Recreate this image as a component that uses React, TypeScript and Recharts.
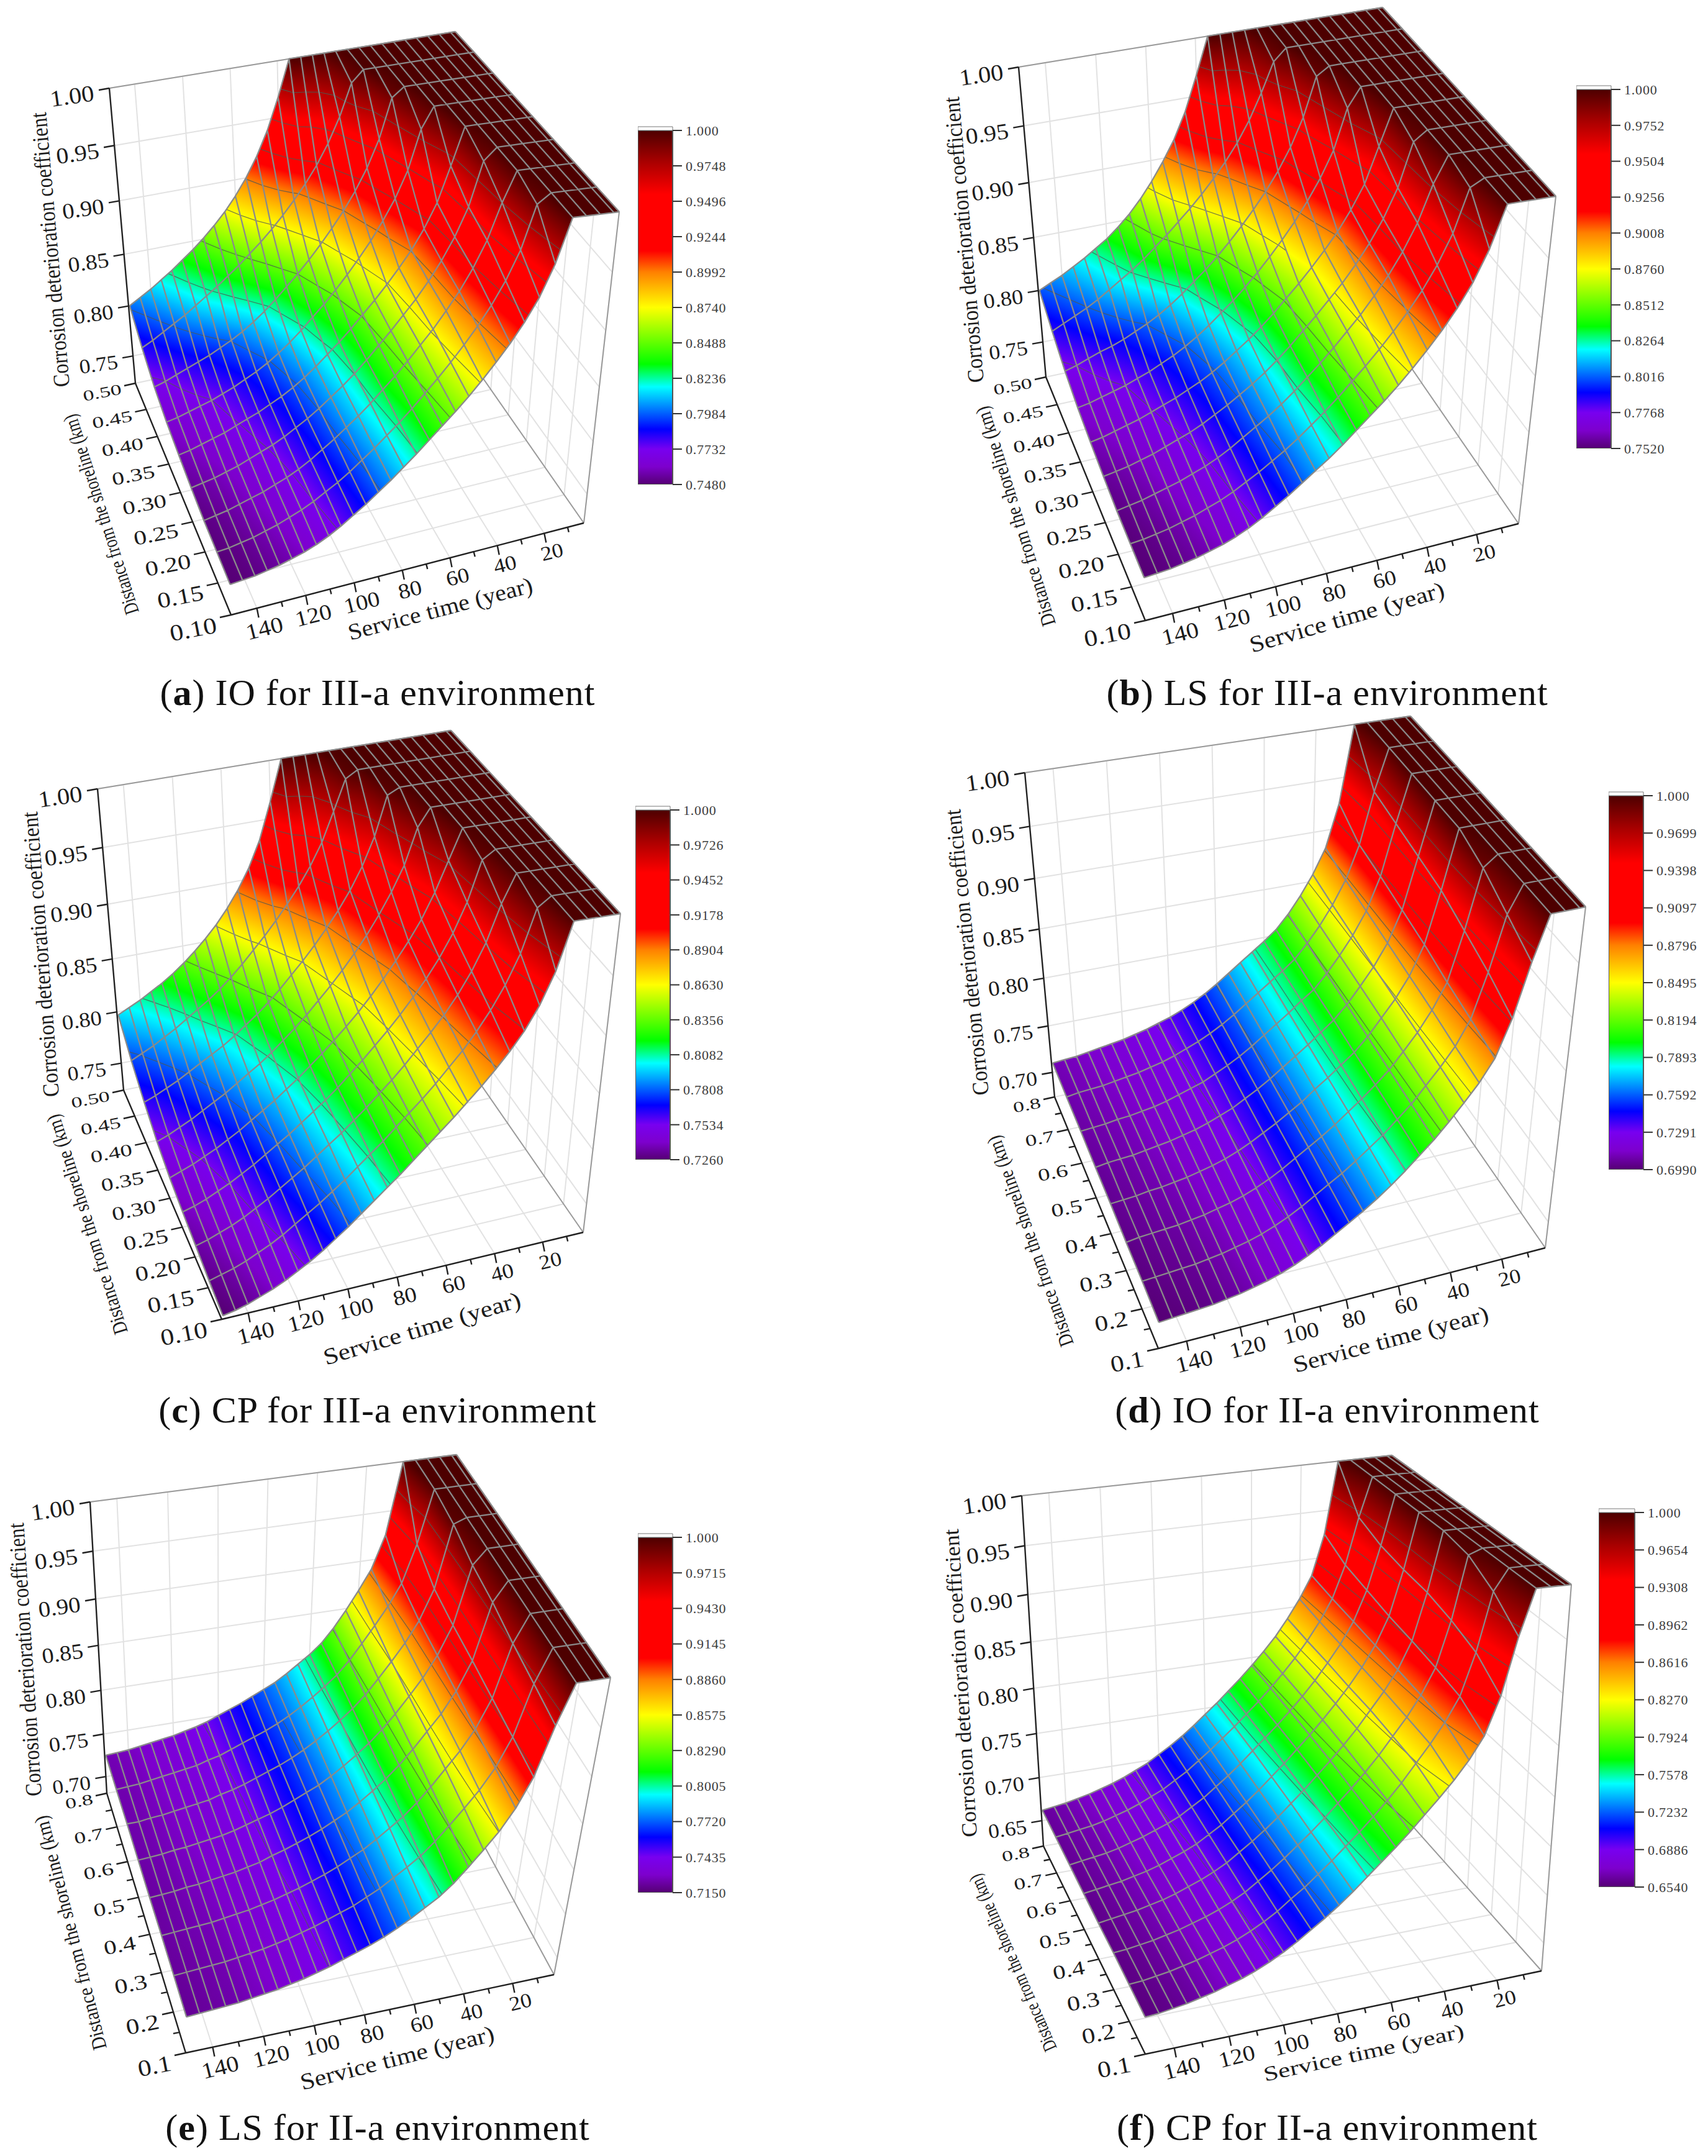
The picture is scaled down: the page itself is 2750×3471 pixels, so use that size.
import React from 'react';
import { Bar, BarChart, ReferenceArea, Scatter, ScatterChart, XAxis, YAxis } from 'recharts';

// service time columns of every surface, oldest first
const TIMES = [150, 145, 140, 135, 130, 125, 120, 115, 110, 105, 100, 95, 90, 85, 80, 75, 70, 65, 60, 55, 50, 45, 40, 35, 30, 25, 20, 15, 10, 5, 3];
const DIST_III = [0.5, 0.45, 0.4, 0.35, 0.3, 0.25, 0.2, 0.15, 0.1];
const DIST_II = [0.8, 0.7, 0.6, 0.5, 0.4, 0.3, 0.2, 0.1];
const TIME_TICKS = [140, 120, 100, 80, 60, 40, 20];
const TIME_MINOR = [130, 110, 90, 70, 50, 30, 10];
const Z_TICKS_A = [1, 0.95, 0.9, 0.85, 0.8, 0.75];
const Z_TICKS_D = [1, 0.95, 0.9, 0.85, 0.8, 0.75, 0.7];
const Z_TICKS_F = [1, 0.95, 0.9, 0.85, 0.8, 0.75, 0.7, 0.65];

// coefficient x 1000, one row per distance; each row stops where it reaches the 1.000 plateau
const IO_IIIA = [
  [800, 806, 812, 819, 826, 834, 842, 851, 861, 872, 885, 900, 918, 940, 968],
  [783, 788, 794, 800, 806, 813, 820, 827, 835, 843, 852, 861, 871, 882, 894, 907, 922, 940, 962, 990],
  [770, 773, 777, 781, 785, 789, 794, 799, 805, 812, 820, 829, 839, 849, 860, 872, 885, 899, 915, 934, 958, 992],
  [762, 764, 767, 770, 773, 777, 781, 786, 791, 797, 804, 812, 821, 831, 841, 852, 864, 877, 891, 907, 925, 948, 982],
  [757, 759, 762, 765, 768, 772, 776, 780, 785, 790, 796, 803, 811, 820, 829, 839, 850, 861, 873, 886, 900, 917, 938, 968],
  [753, 755, 757, 760, 763, 767, 771, 775, 780, 786, 792, 799, 807, 815, 824, 834, 845, 856, 868, 880, 894, 910, 929, 953, 990],
  [750, 752, 754, 757, 760, 763, 767, 771, 776, 782, 789, 796, 804, 812, 821, 831, 841, 852, 864, 876, 890, 905, 923, 945, 975],
  [749, 750, 752, 754, 757, 760, 764, 768, 773, 779, 785, 792, 800, 808, 817, 826, 836, 847, 858, 870, 883, 897, 913, 932, 956, 992],
  [748, 749, 750, 752, 754, 757, 760, 764, 769, 775, 782, 789, 797, 805, 814, 823, 833, 843, 853, 864, 876, 889, 903, 919, 938, 964],
];
const LS_IIIA = [
  [800, 805, 810, 816, 822, 829, 836, 845, 855, 867, 881, 897, 915, 938, 968],
  [786, 791, 796, 801, 807, 814, 821, 828, 836, 845, 854, 864, 874, 885, 897, 910, 925, 943, 965, 990],
  [774, 777, 781, 785, 788, 792, 797, 802, 808, 815, 823, 832, 841, 851, 862, 874, 887, 901, 917, 936, 960, 993],
  [766, 768, 771, 774, 777, 781, 785, 790, 795, 801, 808, 816, 825, 834, 844, 855, 867, 880, 894, 910, 928, 950, 984],
  [761, 763, 766, 769, 772, 776, 780, 784, 789, 794, 800, 807, 815, 823, 832, 842, 853, 864, 876, 889, 903, 920, 940, 970],
  [757, 759, 761, 764, 767, 771, 775, 779, 784, 790, 796, 803, 810, 818, 827, 837, 848, 859, 871, 883, 897, 913, 932, 956, 992],
  [754, 756, 758, 761, 764, 767, 771, 775, 780, 786, 793, 800, 807, 815, 824, 834, 844, 855, 867, 879, 893, 908, 926, 948, 978],
  [753, 754, 756, 758, 761, 764, 768, 772, 777, 783, 789, 796, 803, 811, 820, 829, 839, 850, 861, 873, 886, 900, 916, 935, 959, 994],
  [752, 753, 754, 756, 758, 761, 764, 768, 773, 779, 786, 793, 801, 809, 817, 826, 836, 846, 856, 867, 879, 892, 906, 922, 941, 966],
];
const CP_IIIA = [
  [797, 802, 807, 813, 819, 826, 834, 843, 853, 864, 877, 892, 910, 933, 965],
  [777, 782, 787, 793, 799, 806, 813, 820, 828, 837, 847, 858, 869, 881, 894, 908, 924, 943, 968, 994],
  [762, 766, 771, 776, 782, 788, 794, 800, 807, 815, 823, 832, 842, 853, 864, 876, 889, 903, 919, 938, 962, 995],
  [750, 754, 759, 764, 770, 776, 782, 789, 796, 803, 811, 820, 829, 839, 850, 861, 873, 886, 900, 916, 934, 955, 985],
  [742, 746, 750, 755, 760, 766, 772, 779, 786, 793, 801, 809, 818, 827, 837, 847, 858, 870, 883, 897, 912, 929, 950, 975],
  [737, 740, 744, 749, 754, 760, 766, 773, 780, 787, 795, 803, 811, 820, 830, 840, 851, 862, 874, 887, 901, 917, 936, 960, 993],
  [733, 736, 740, 744, 749, 755, 761, 768, 775, 782, 790, 798, 806, 815, 824, 834, 844, 855, 867, 879, 892, 907, 925, 947, 977],
  [729, 732, 735, 739, 744, 749, 755, 762, 769, 776, 784, 792, 801, 810, 819, 829, 839, 849, 860, 872, 884, 898, 914, 933, 957, 992],
  [726, 728, 731, 735, 739, 744, 750, 756, 763, 771, 779, 788, 797, 806, 815, 825, 835, 845, 855, 866, 877, 889, 902, 917, 936, 962],
];
const IO_IIA = [
  [710, 711, 712, 714, 716, 718, 720, 723, 726, 730, 734, 739, 745, 752, 760, 769, 778, 787, 796, 806, 820, 837, 857, 882, 925],
  [708, 710, 711, 712, 714, 716, 718, 721, 724, 728, 733, 738, 744, 751, 759, 768, 777, 786, 795, 805, 819, 835, 854, 877, 910, 960],
  [707, 708, 709, 711, 712, 714, 716, 719, 723, 727, 731, 737, 743, 750, 758, 767, 776, 785, 795, 804, 818, 834, 852, 874, 906, 955],
  [705, 707, 708, 709, 711, 713, 715, 718, 721, 725, 730, 735, 742, 749, 757, 766, 775, 784, 794, 804, 817, 833, 850, 871, 901, 950],
  [704, 705, 706, 708, 709, 711, 713, 716, 719, 723, 728, 734, 741, 748, 756, 764, 774, 783, 793, 803, 816, 832, 848, 868, 896, 945],
  [702, 704, 705, 706, 707, 709, 711, 714, 717, 721, 726, 732, 739, 747, 755, 763, 772, 782, 792, 803, 815, 830, 846, 865, 889, 935, 990],
  [701, 702, 703, 704, 705, 707, 709, 712, 715, 719, 724, 730, 737, 745, 753, 761, 770, 780, 790, 802, 814, 829, 844, 861, 884, 925, 975],
  [699, 700, 701, 702, 703, 705, 707, 710, 713, 717, 722, 728, 735, 743, 751, 759, 768, 778, 789, 801, 813, 827, 842, 858, 878, 912, 960],
];
const LS_IIA = [
  [725, 726, 727, 729, 731, 733, 735, 738, 741, 745, 750, 755, 760, 766, 772, 778, 786, 795, 804, 815, 830, 848, 868, 890, 925],
  [724, 725, 726, 728, 730, 732, 734, 736, 740, 743, 748, 753, 758, 763, 769, 776, 784, 793, 803, 814, 828, 845, 863, 882, 905, 945],
  [724, 724, 726, 727, 729, 731, 733, 735, 739, 742, 746, 751, 756, 761, 767, 774, 782, 791, 801, 812, 825, 841, 858, 876, 898, 930, 995],
  [723, 724, 725, 727, 728, 730, 732, 734, 737, 741, 745, 749, 754, 760, 766, 772, 780, 789, 799, 810, 823, 838, 855, 873, 895, 925, 985],
  [722, 723, 724, 726, 727, 729, 731, 733, 736, 739, 744, 748, 753, 758, 764, 771, 778, 787, 797, 808, 821, 836, 853, 870, 892, 922, 980],
  [722, 723, 724, 725, 726, 728, 730, 732, 735, 738, 742, 746, 751, 756, 762, 769, 776, 785, 795, 805, 818, 833, 850, 867, 888, 918, 972],
  [721, 722, 723, 724, 725, 727, 729, 731, 734, 737, 741, 745, 750, 755, 760, 767, 774, 783, 792, 802, 815, 830, 846, 863, 884, 914, 966],
  [720, 721, 722, 723, 724, 726, 728, 730, 733, 736, 740, 744, 749, 754, 759, 765, 772, 780, 789, 798, 810, 825, 841, 858, 880, 910, 960],
];
const CP_IIA = [
  [662, 664, 666, 669, 672, 676, 680, 685, 691, 697, 705, 713, 722, 732, 743, 754, 766, 778, 791, 805, 820, 838, 858, 882, 925],
  [661, 663, 665, 667, 670, 674, 678, 683, 689, 695, 703, 711, 721, 731, 742, 753, 765, 777, 790, 804, 819, 836, 855, 878, 912, 960],
  [660, 662, 664, 666, 669, 673, 677, 682, 687, 693, 701, 709, 719, 729, 740, 752, 764, 776, 789, 803, 818, 835, 853, 875, 906, 950],
  [659, 661, 663, 665, 668, 671, 675, 680, 685, 691, 699, 707, 717, 727, 738, 750, 762, 775, 788, 802, 817, 833, 851, 872, 900, 945],
  [658, 660, 662, 664, 667, 670, 674, 679, 684, 690, 697, 706, 715, 725, 736, 748, 760, 773, 786, 800, 815, 832, 849, 869, 896, 942],
  [658, 659, 661, 663, 666, 669, 673, 677, 682, 688, 695, 704, 713, 723, 734, 745, 757, 770, 783, 797, 812, 829, 846, 866, 891, 935, 995],
  [657, 658, 660, 662, 665, 668, 672, 676, 681, 687, 694, 702, 712, 721, 732, 743, 755, 767, 780, 794, 809, 826, 843, 862, 885, 925, 980],
  [656, 657, 659, 661, 664, 667, 671, 675, 680, 686, 693, 701, 710, 719, 729, 740, 752, 764, 776, 789, 803, 817, 832, 849, 870, 905, 958],
];

const BAR_TICKS_A = [1, 0.9748, 0.9496, 0.9244, 0.8992, 0.874, 0.8488, 0.8236, 0.7984, 0.7732, 0.748];
const BAR_TICKS_B = [1, 0.9752, 0.9504, 0.9256, 0.9008, 0.876, 0.8512, 0.8264, 0.8016, 0.7768, 0.752];
const BAR_TICKS_C = [1, 0.9726, 0.9452, 0.9178, 0.8904, 0.863, 0.8356, 0.8082, 0.7808, 0.7534, 0.726];
const BAR_TICKS_D = [1, 0.9699, 0.9398, 0.9097, 0.8796, 0.8495, 0.8194, 0.7893, 0.7592, 0.7291, 0.699];
const BAR_TICKS_E = [1, 0.9715, 0.943, 0.9145, 0.886, 0.8575, 0.829, 0.8005, 0.772, 0.7435, 0.715];
const BAR_TICKS_F = [1, 0.9654, 0.9308, 0.8962, 0.8616, 0.827, 0.7924, 0.7578, 0.7232, 0.6886, 0.654];

const Z_TITLE = 'Corrosion deterioration coefficient';
const D_TITLE = 'Distance from the shoreline (km)';
const T_TITLE = 'Service time (year)';
const FONT = '"Liberation Serif", serif';

// fraction down the colour bar -> colour
const COLOR_STOPS: [number, number[]][] = [
  [0, [77, 0, 0]], [0.09, [170, 0, 0]], [0.18, [255, 0, 0]], [0.34, [255, 0, 0]], [0.4, [255, 128, 0]],
  [0.5, [255, 255, 0]], [0.66, [0, 255, 0]], [0.724, [0, 255, 255]], [0.844, [0, 0, 255]],
  [0.9, [120, 0, 240]], [0.95, [125, 0, 205]], [1, [85, 0, 115]],
];

const rgb = (frac: number) => {
  const f = Math.min(1, Math.max(0, frac));
  for (let i = 1; i < COLOR_STOPS.length; i++) {
    const [f1, c1] = COLOR_STOPS[i];
    const [f0, c0] = COLOR_STOPS[i - 1];
    if (f <= f1) {
      const s = (f - f0) / (f1 - f0);
      return `rgb(${c0.map((c, k) => Math.round(c + (c1[k] - c) * s)).join(',')})`;
    }
  }
  return 'rgb(85,0,115)';
};

// perspective spacing along one box edge
const warp = (s: number, k: number) => s / (k - s * (k - 1));
const mix = (a: number[], b: number[], s: number) => [a[0] + (b[0] - a[0]) * s, a[1] + (b[1] - a[1]) * s];

const T_MAX = 150.5;
const T_MIN = 3;

function project(p: any, t: number, d: number, z: number) {
  const u = warp((T_MAX - t) / (T_MAX - T_MIN), 0.97);
  const v = warp((p.dMax - d) / (p.dMax - p.dMin), 1.12);
  const w = warp((1 - z) / (1 - p.floor), 0.91);
  const c = p.cam;
  const top = mix(mix(c.tl, c.tb, u), mix(c.tn, c.tr, u), v);
  const bot = mix(mix(c.bl, c.bb, u), mix(c.bn, c.br, u), v);
  const [x, y] = mix(top, bot, w);
  return { x, y };
}

const noMark = () => <g />;

const segments = (stroke: string, width: number) => (props: any) => {
  const pts = props.points;
  let d = '';
  for (let i = 0; i + 1 < pts.length; i += 2) d += `M${pts[i].x} ${pts[i].y}L${pts[i + 1].x} ${pts[i + 1].y}`;
  return <path d={d} stroke={stroke} strokeWidth={width} fill="none" />;
};

const textMark = (props: any) => {
  const { cx, cy, payload } = props;
  return (
    <text
      transform={`translate(${cx} ${cy}) rotate(${payload.rot}) scale(${payload.sx ?? 1} 1)`}
      fontFamily={FONT}
      fontSize={payload.fs}
      fill="#1c1c1c"
      textAnchor={payload.anchor}
      textLength={payload.len}
      lengthAdjust="spacingAndGlyphs"
    >
      {payload.label}
    </text>
  );
};

// one gradient-filled quad per grid cell; the nodes come back through the chart's scales
const surfaceLine = (panel: any) => (props: any) => {
  const pts = props.points;
  const nc = TIMES.length;
  const rows = panel.rows;
  const zMin = panel.ticks[panel.ticks.length - 1];
  const frac = (z: number) => (1 - z) / (1 - zMin);
  const at = (r: number, c: number) => ({ ...pts[r * nc + c], z: rows[r][c] });
  const defs: any[] = [];
  const cells: any[] = [];
  const contour: string[] = [];
  const levels = panel.ticks.slice(1, -1);

  for (let r = 0; r + 1 < rows.length; r++) {
    for (let c = 0; c + 1 < nc; c++) {
      const q = [at(r, c), at(r, c + 1), at(r + 1, c + 1), at(r + 1, c)];
      const poly = q.map((p) => `${p.x},${p.y}`).join(' ');
      const zs = q.map((p) => p.z);
      const lo = Math.min(...zs);
      const hi = Math.max(...zs);
      let fill = rgb(frac(lo));
      if (hi - lo > 1e-4) {
        const mx = q.reduce((s, p) => s + p.x, 0) / 4;
        const my = q.reduce((s, p) => s + p.y, 0) / 4;
        const mz = (zs[0] + zs[1] + zs[2] + zs[3]) / 4;
        let sxx = 0, sxy = 0, syy = 0, sxz = 0, syz = 0;
        q.forEach((p) => {
          const dx = p.x - mx, dy = p.y - my, dz = p.z - mz;
          sxx += dx * dx; sxy += dx * dy; syy += dy * dy; sxz += dx * dz; syz += dy * dz;
        });
        const det = sxx * syy - sxy * sxy;
        const a = (sxz * syy - syz * sxy) / det;
        const b = (syz * sxx - sxz * sxy) / det;
        const g2 = a * a + b * b;
        const id = `g${panel.key}-${r}-${c}`;
        const zAt = [lo];
        COLOR_STOPS.forEach(([f]) => {
          const zb = 1 - f * (1 - zMin);
          if (zb > lo && zb < hi) zAt.push(zb);
        });
        zAt.push(hi);
        zAt.sort((m, n) => m - n);
        defs.push(
          <linearGradient
            key={id}
            id={id}
            gradientUnits="userSpaceOnUse"
            x1={mx + ((lo - mz) * a) / g2}
            y1={my + ((lo - mz) * b) / g2}
            x2={mx + ((hi - mz) * a) / g2}
            y2={my + ((hi - mz) * b) / g2}
          >
            {zAt.map((z, i) => <stop key={i} offset={(z - lo) / (hi - lo)} stopColor={rgb(frac(z))} />)}
          </linearGradient>
        );
        fill = `url(#${id})`;
      }
      cells.push(<polygon key={`${r}-${c}`} points={poly} fill={fill} stroke={fill} strokeWidth={0.6} />);

      // contour pieces at the colour bar levels
      levels.forEach((L: number) => {
        const hits: string[] = [];
        for (let e = 0; e < 4; e++) {
          const p0 = q[e], p1 = q[(e + 1) % 4];
          if ((p0.z - L) * (p1.z - L) < 0) {
            const s = (L - p0.z) / (p1.z - p0.z);
            hits.push(`${p0.x + (p1.x - p0.x) * s} ${p0.y + (p1.y - p0.y) * s}`);
          }
        }
        for (let h = 0; h + 1 < hits.length; h += 2) contour.push(`M${hits[h]}L${hits[h + 1]}`);
      });
    }
  }

  let mesh = '';
  for (let r = 0; r < rows.length; r++) {
    mesh += 'M' + rows[r].map((_: number, c: number) => `${at(r, c).x} ${at(r, c).y}`).join('L');
  }
  for (let c = 0; c < nc; c++) {
    mesh += 'M' + rows.map((_: any, r: number) => `${at(r, c).x} ${at(r, c).y}`).join('L');
  }
  return (
    <g>
      <defs>{defs}</defs>
      {cells}
      <path d={contour.join('')} stroke="#4f5a50" strokeWidth={1.4} strokeOpacity={0.75} fill="none" />
      <path d={mesh} stroke="#8a8a8a" strokeWidth={2.3} fill="none" strokeLinejoin="round" />
    </g>
  );
};

function SurfacePanel({ panel }: { panel: any }) {
  const { box, dists, dTicks, dMinor, zTicks, dFmt, titles } = panel;
  const P = (t: number, d: number, z: number) => project(panel, t, d, z);
  const nodes: any[] = [];
  panel.rows.forEach((row: number[], r: number) => row.forEach((z, c) => nodes.push(P(TIMES[c], dists[r], z))));

  const { dMin, dMax, floor } = panel;
  const wall: any[] = [];
  zTicks.forEach((z: number) => wall.push(P(T_MAX, dMax, z), P(T_MIN, dMax, z), P(T_MIN, dMax, z), P(T_MIN, dMin, z)));
  TIME_TICKS.forEach((t) => wall.push(P(t, dMax, 1), P(t, dMax, floor), P(t, dMax, floor), P(t, dMin, floor)));
  dTicks.forEach((d: number) => wall.push(P(T_MAX, d, floor), P(T_MIN, d, floor), P(T_MIN, d, floor), P(T_MIN, d, 1)));

  const frame = [
    P(T_MAX, dMax, 1), P(T_MIN, dMax, 1), P(T_MIN, dMax, 1), P(T_MIN, dMin, 1),
    P(T_MIN, dMin, 1), P(T_MIN, dMin, floor), P(T_MIN, dMin, floor), P(T_MIN, dMax, floor),
  ];
  const axes = [
    P(T_MAX, dMax, 1), P(T_MAX, dMax, floor), P(T_MAX, dMax, floor), P(T_MAX, dMin, floor),
    P(T_MAX, dMin, floor), P(T_MIN, dMin, floor),
  ];
  const off = (p: any, dx: number, dy: number) => ({ x: p.x + dx, y: p.y + dy });
  zTicks.forEach((z: number) => { const p = P(T_MAX, dMax, z); axes.push(p, off(p, -17, 3)); });
  dTicks.forEach((d: number) => { const p = P(T_MAX, d, floor); axes.push(p, off(p, -18, 4)); });
  dMinor.forEach((d: number) => { const p = P(T_MAX, d, floor); axes.push(p, off(p, -10, 2)); });
  TIME_TICKS.forEach((t) => { const p = P(t, dMin, floor); axes.push(p, off(p, 3, 15)); });
  TIME_MINOR.forEach((t) => { const p = P(t, dMin, floor); axes.push(p, off(p, 2, 8)); });

  const labels: any[] = [];
  zTicks.forEach((z: number) => {
    const s = (1 - z) / (1 - floor);
    labels.push({ ...off(P(T_MAX, dMax, z), -23, 20), label: z.toFixed(2), fs: 37 - 5 * s, anchor: 'end', rot: -8, sx: 1.1 });
  });
  dTicks.forEach((d: number) => {
    const s = (dMax - d) / (dMax - dMin);
    labels.push({ ...off(P(T_MAX, d, floor), -21, 17 + 11 * s), label: d.toFixed(dFmt), fs: 24 + 13 * s, anchor: 'end', rot: -11, sx: 1.5 - 0.32 * s });
  });
  TIME_TICKS.forEach((t) => {
    labels.push({ ...off(P(t, dMin, floor), 15, 44 - (140 - t) * 0.03), label: String(t), fs: 36 - (140 - t) * 0.03, anchor: 'middle', rot: -14, sx: 1.12 });
  });
  titles.forEach((tt: any, i: number) => {
    const [a, b] = tt.pts;
    const rot = (Math.atan2(b[1] - a[1], b[0] - a[0]) * 180) / Math.PI;
    labels.push({ x: a[0], y: a[1], label: [Z_TITLE, D_TITLE, T_TITLE][i], fs: tt.fs, anchor: 'start', rot, len: Math.hypot(b[0] - a[0], b[1] - a[1]) });
  });

  return (
    <div style={{ position: 'absolute', left: box.x, top: box.y }}>
      <ScatterChart width={box.w} height={box.h} margin={{ top: 0, right: 0, bottom: 0, left: 0 }}>
        <XAxis type="number" dataKey="x" domain={[box.x, box.x + box.w]} hide />
        <YAxis type="number" dataKey="y" domain={[box.y, box.y + box.h]} reversed hide />
        <Scatter data={wall} shape={noMark} line={segments('#e2e2e2', 2)} isAnimationActive={false} />
        <Scatter data={frame} shape={noMark} line={segments('#9a9a9a', 2)} isAnimationActive={false} />
        <Scatter data={nodes} shape={noMark} line={surfaceLine(panel)} isAnimationActive={false} />
        <Scatter data={axes} shape={noMark} line={segments('#222222', 2.4)} isAnimationActive={false} />
        <Scatter data={labels} shape={textMark} isAnimationActive={false} />
      </ScatterChart>
    </div>
  );
}

function ColorBar({ panel }: { panel: any }) {
  const { bar, ticks, key } = panel;
  const zMin = ticks[ticks.length - 1];
  const cap = ((bar.bottom - bar.top) ? (1 - zMin) * 6 / (bar.bottom - bar.top) : 0);
  const chartData = [{ name: 'z', range: [zMin, 1] }];
  return (
    <div style={{ position: 'absolute', left: bar.x, top: bar.top - 16 }}>
      <BarChart
        width={bar.w + 110}
        height={bar.bottom - bar.top + 32}
        data={chartData}
        margin={{ top: 16, right: 0, bottom: 16, left: 0 }}
        barCategoryGap={0}
      >
        <defs>
          <linearGradient id={`bar${key}`} x1="0" y1="0" x2="0" y2="1">
            {COLOR_STOPS.map(([f]) => <stop key={f} offset={f} stopColor={rgb(f)} />)}
            <stop offset={0.995} stopColor="#300040" />
            <stop offset={0.995} stopColor="#000000" />
            <stop offset={1} stopColor="#000000" />
          </linearGradient>
        </defs>
        <XAxis dataKey="name" hide />
        <YAxis
          orientation="right"
          width={110}
          domain={[zMin, 1]}
          ticks={ticks}
          interval={0}
          allowDataOverflow
          axisLine={false}
          tickSize={15}
          tickMargin={6}
          tickLine={{ stroke: '#333', strokeWidth: 2 }}
          tick={{ fontFamily: FONT, fontSize: 22, fill: '#3c3c3c', letterSpacing: 0.8 }}
          tickFormatter={(v: number) => (v === 1 ? '1.000' : v.toFixed(4))}
        />
        <Bar dataKey="range" fill={`url(#bar${key})`} stroke="#555" strokeWidth={2} isAnimationActive={false} />
        <ReferenceArea y1={1} y2={1 + cap} fill="#fff" stroke="#777" ifOverflow="visible" />
      </BarChart>
    </div>
  );
}

const CAPTIONS = ['IO for III-a environment', 'LS for III-a environment', 'CP for III-a environment', 'IO for II-a environment', 'LS for II-a environment', 'CP for II-a environment'];
const LETTERS = ['a', 'b', 'c', 'd', 'e', 'f'];

const III = { dMin: 0.1, dMax: 0.5, dists: DIST_III, dTicks: DIST_III, dMinor: [] as number[], dFmt: 2 };
const II = { dMin: 0.1, dMax: 0.8, dists: DIST_II, dTicks: DIST_II, dMinor: [0.75, 0.65, 0.55, 0.45, 0.35, 0.25, 0.15], dFmt: 1 };

const pad = (rows: number[][]) => rows.map((r) => [...r, ...Array(TIMES.length - r.length).fill(1000)].map((v) => v / 1000));

const PANELS = [
  { ...III, key: 'a', rows: pad(IO_IIIA), ticks: BAR_TICKS_A, zTicks: Z_TICKS_A, floor: 0.722, box: { x: 0, y: 0, w: 1375, h: 1090 },
    cam: { tl: [176, 142], tb: [733, 51], tr: [997, 341], tn: [331, 423], bl: [218, 617], bb: [710, 512], br: [940, 842], bn: [372, 990] },
    bar: { x: 1027, w: 56, top: 210, bottom: 780 }, capY: 1085, capX: 608,
    titles: [{ pts: [[112, 622], [74, 180]], fs: 37 }, { pts: [[224, 985], [122, 665]], fs: 33 }, { pts: [[564, 1031], [860, 953]], fs: 37 }] },
  { ...III, key: 'b', rows: pad(LS_IIIA), ticks: BAR_TICKS_B, zTicks: Z_TICKS_A, floor: 0.715, box: { x: 1375, y: 0, w: 1375, h: 1090 },
    cam: { tl: [1640, 108], tb: [2226, 12], tr: [2505, 316], tn: [1811, 426], bl: [1684, 607], bb: [2206, 496], br: [2445, 843], bn: [1844, 999] },
    bar: { x: 2538, w: 56, top: 144, bottom: 722 }, capY: 1085, capX: 2137,
    titles: [{ pts: [[1584, 615], [1544, 155]], fs: 37 }, { pts: [[1700, 1004], [1591, 652]], fs: 33 }, { pts: [[2016, 1051], [2328, 960]], fs: 37 }] },
  { ...III, key: 'c', rows: pad(CP_IIIA), ticks: BAR_TICKS_C, zTicks: Z_TICKS_A, floor: 0.723, box: { x: 0, y: 1140, w: 1375, h: 1100 },
    cam: { tl: [157, 1270], tb: [726, 1176], tr: [999, 1471], tn: [332, 1577], bl: [199, 1755], bb: [709, 1652], br: [939, 1984], bn: [357, 2124] },
    bar: { x: 1023, w: 56, top: 1304, bottom: 1867 }, capY: 2240, capX: 608,
    titles: [{ pts: [[95, 1765], [60, 1306]], fs: 37 }, { pts: [[206, 2144], [95, 1792]], fs: 33 }, { pts: [[525, 2198], [841, 2103]], fs: 37 }] },
  { ...II, key: 'd', rows: pad(IO_IIA), ticks: BAR_TICKS_D, zTicks: Z_TICKS_D, floor: 0.673, box: { x: 1375, y: 1140, w: 1375, h: 1100 },
    cam: { tl: [1650, 1244], tb: [2271, 1153], tr: [2553, 1460], tn: [1846, 1602], bl: [1698, 1766], bb: [2241, 1652], br: [2488, 2009], bn: [1865, 2171] },
    bar: { x: 2590, w: 56, top: 1281, bottom: 1883 }, capY: 2240, capX: 2137,
    titles: [{ pts: [[1592, 1762], [1546, 1302]], fs: 37 }, { pts: [[1729, 2163], [1609, 1826]], fs: 33 }, { pts: [[2086, 2210], [2399, 2126]], fs: 37 }] },
  { ...II, key: 'e', rows: pad(LS_IIA), ticks: BAR_TICKS_E, zTicks: Z_TICKS_D, floor: 0.68, box: { x: 0, y: 2300, w: 1375, h: 1100 },
    cam: { tl: [145, 2418], tb: [735, 2342], tr: [983, 2701], tn: [291, 2806], bl: [172, 2887], bb: [686, 2799], br: [892, 3179], bn: [299, 3305] },
    bar: { x: 1027, w: 56, top: 2475, bottom: 3047 }, capY: 3395, capX: 608,
    titles: [{ pts: [[67, 2891], [38, 2451]], fs: 37 }, { pts: [[172, 3297], [76, 2921]], fs: 33 }, { pts: [[487, 3365], [798, 3285]], fs: 37 }] },
  { ...II, key: 'f', rows: pad(CP_IIA), ticks: BAR_TICKS_F, zTicks: Z_TICKS_F, floor: 0.62, box: { x: 1375, y: 2300, w: 1375, h: 1100 },
    cam: { tl: [1645, 2408], tb: [2241, 2343], tr: [2530, 2551], tn: [1816, 2627], bl: [1680, 2972], bb: [2221, 2880], br: [2482, 3173], bn: [1844, 3307] },
    bar: { x: 2574, w: 58, top: 2435, bottom: 3038 }, capY: 3395, capX: 2137,
    titles: [{ pts: [[1573, 2957], [1543, 2461]], fs: 35 }, { pts: [[1702, 3297], [1578, 3015]], fs: 31 }, { pts: [[2037, 3351], [2359, 3280]], fs: 33 }] },
];

export default function App() {
  return (
    <div style={{ position: 'absolute', left: 0, top: 0, width: 2750, height: 3471, background: '#fff', overflow: 'hidden' }}>
      {PANELS.map((panel) => <SurfacePanel key={panel.key} panel={panel} />)}
      {PANELS.map((panel) => <ColorBar key={panel.key} panel={panel} />)}
      {PANELS.map((panel, i) => (
        <div
          key={panel.key}
          style={{ position: 'absolute', left: panel.capX - 500, width: 1000, top: panel.capY, textAlign: 'center', fontFamily: FONT, fontSize: 60, letterSpacing: 1, lineHeight: '60px', color: '#111' }}
        >
          (<b>{LETTERS[i]}</b>) {CAPTIONS[i]}
        </div>
      ))}
    </div>
  );
}
